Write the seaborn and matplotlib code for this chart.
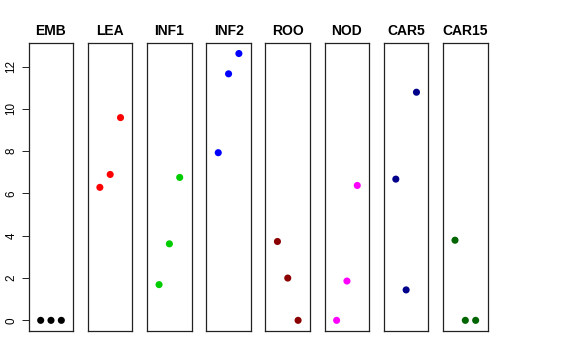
import matplotlib
matplotlib.use("Agg")
import matplotlib.pyplot as plt
import seaborn as sns
import pandas as pd

# tissue panels, three samples each
tissues = ["EMB", "LEA", "INF1", "INF2", "ROO", "NOD", "CAR5", "CAR15"]
colors = ["#000000", "#FF0000", "#00CD00", "#0000FF",
          "#8B0000", "#FF00FF", "#00008B", "#006400"]
sample = [1, 2, 3]

emb = [0.0, 0.0, 0.0]
lea = [6.29, 6.90, 9.59]
inf1 = [1.69, 3.62, 6.76]
inf2 = [7.93, 11.66, 12.62]
roo = [3.73, 2.00, 0.0]
nod = [0.0, 1.86, 6.38]
car5 = [6.68, 1.44, 10.79]
car15 = [3.79, 0.0, 0.0]

values = [emb, lea, inf1, inf2, roo, nod, car5, car15]
yticks = [0, 2, 4, 6, 8, 10, 12]

sns.set_style("white")
plt.rcParams["font.family"] = ["Liberation Sans", "DejaVu Sans"]

fig = plt.figure(figsize=(5.76, 3.6), dpi=100)

W, H = 576.0, 360.0
left0, pitch, pw = 28.7, 59.19, 44.6
top, bottom = 43.3, 331.0

for i, (name, col, vals) in enumerate(zip(tissues, colors, values)):
    ax = fig.add_axes([(left0 + i * pitch) / W, (H - bottom) / H,
                       pw / W, (bottom - top) / H])
    df = pd.DataFrame({"sample": sample, "expr": vals})
    sns.scatterplot(data=df, x="sample", y="expr", color=col, s=26,
                    edgecolor="none", ax=ax, legend=False)
    ax.set_xlim(-0.16, 4.16)
    ax.set_ylim(-0.504, 13.104)
    ax.set_xlabel("")
    ax.set_ylabel("")
    ax.set_xticks([])
    ax.set_title(name, fontsize=10, fontweight="bold", pad=6, color="black")
    for sp in ax.spines.values():
        sp.set_color("#222222")
        sp.set_linewidth(0.9)
    if i == 0:
        ax.set_yticks(yticks)
        ax.set_yticklabels([str(t) for t in yticks], rotation=90,
                           va="center", fontsize=8.4)
        ax.tick_params(axis="y", length=5, width=0.7, pad=3, left=True,
                       color="#222222", labelcolor="black")
    else:
        ax.set_yticks([])

fig.savefig("out.png", dpi=100)
